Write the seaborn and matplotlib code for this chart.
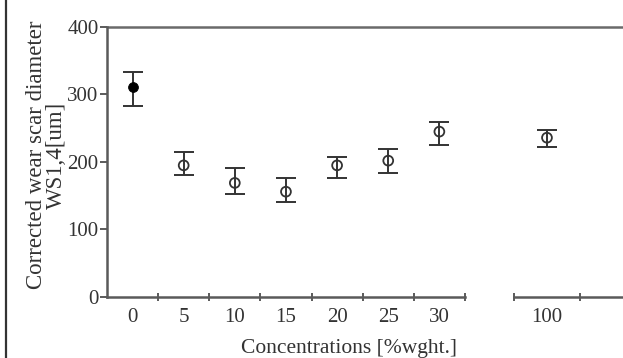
import numpy as np
import pandas as pd
import matplotlib
matplotlib.use("Agg")
import matplotlib.pyplot as plt
from matplotlib.lines import Line2D
import seaborn as sns

# Data (wear scar diameter vs concentration)
conc = ["0", "5", "10", "15", "20", "25", "30"]
wsd = [311, 195, 169, 156, 195, 202, 245]
wsd_lo = [283, 180, 152, 141, 177, 184, 225]
wsd_hi = [333, 215, 191, 177, 208, 219, 259]

conc_pure = ["100"]
wsd_pure = [236]
wsd_pure_lo = [222]
wsd_pure_hi = [248]

y_ticks = [0, 100, 200, 300, 400]

sns.set_theme(style="white")
plt.rcParams["font.family"] = ["Liberation Serif", "DejaVu Serif"]

AX_COL = "#5a5a5a"
TXT_COL = "#333333"
MK_COL = "#333333"

df = pd.DataFrame({"conc": conc, "wsd": wsd, "lo": wsd_lo, "hi": wsd_hi})
df_pure = pd.DataFrame({"conc": conc_pure, "wsd": wsd_pure,
                        "lo": wsd_pure_lo, "hi": wsd_pure_hi})

fig = plt.figure(figsize=(6.23, 3.58), dpi=100)
ax1 = fig.add_axes([0.1717, 0.1704, 0.5746, 0.7542])
ax2 = fig.add_axes([0.825, 0.1704, 0.2119, 0.7542])


def draw(ax, d, filled_first):
    yerr = np.vstack([d["wsd"] - d["lo"], d["hi"] - d["wsd"]])
    ax.errorbar(d["conc"], d["wsd"], yerr=yerr, fmt="none", ecolor=MK_COL,
                elinewidth=1.4, capsize=7, capthick=1.4, zorder=2)
    if filled_first:
        sns.scatterplot(data=d.iloc[:1], x="conc", y="wsd", ax=ax, s=50,
                        color="black", edgecolor="black", zorder=3)
        rest = d.iloc[1:]
    else:
        rest = d
    sns.scatterplot(data=rest, x="conc", y="wsd", ax=ax, s=50,
                    facecolors="none", edgecolor=MK_COL, linewidth=1.3,
                    zorder=3)


draw(ax1, df, True)
draw(ax2, df_pure, False)

for ax, n in [(ax1, len(conc)), (ax2, 2)]:
    ax.set_xlim(-0.5, n - 0.5)
    ax.set_ylim(0, 400)
    ax.set_facecolor("none")
    for s in ["top", "right"]:
        ax.spines[s].set_visible(False)
    ax.spines["bottom"].set_color(AX_COL)
    ax.spines["bottom"].set_linewidth(1.8)
    ax.set_xlabel("")
    ax.set_ylabel("")
    ax.tick_params(axis="x", which="major", length=0, pad=8,
                   labelsize=15, labelcolor=TXT_COL)
    ax.tick_params(axis="x", which="minor", direction="inout", length=6,
                   width=1.4, color=AX_COL, bottom=True)

ax1.set_xticks(np.arange(0.5, len(conc)), minor=True)
ax2.set_xticks([-0.5, 0.5], minor=True)
ax2.set_xticks([0])
ax2.set_xticklabels(conc_pure)

# y axis
ax1.set_yticks(y_ticks)
ax1.spines["left"].set_color(AX_COL)
ax1.spines["left"].set_linewidth(1.8)
ax1.tick_params(axis="y", direction="out", length=5, width=1.4,
                color=AX_COL, left=True, pad=1, labelsize=15,
                labelcolor=TXT_COL)
ax2.spines["left"].set_visible(False)
ax2.set_yticks([])

# top line at 400 running across both panels
ax1.axhline(400, xmin=0, xmax=1.6, color="#6a6a6a", lw=1.8, clip_on=False)

ax1.set_ylabel("Corrected wear scar diameter\nWS1,4[um]", fontsize=16.5,
               color=TXT_COL, linespacing=0.95)
ax1.yaxis.set_label_coords(-0.111, 0.525)
ax1.set_xlabel("Concentrations [%wght.]", fontsize=15.5, color=TXT_COL)
ax1.xaxis.set_label_coords(0.676, -0.155)

# left frame line of the original figure
fig.add_artist(Line2D([0.009, 0.009], [0, 1], transform=fig.transFigure,
                      color="#333333", lw=1.6))

fig.savefig("out.png", dpi=100)
